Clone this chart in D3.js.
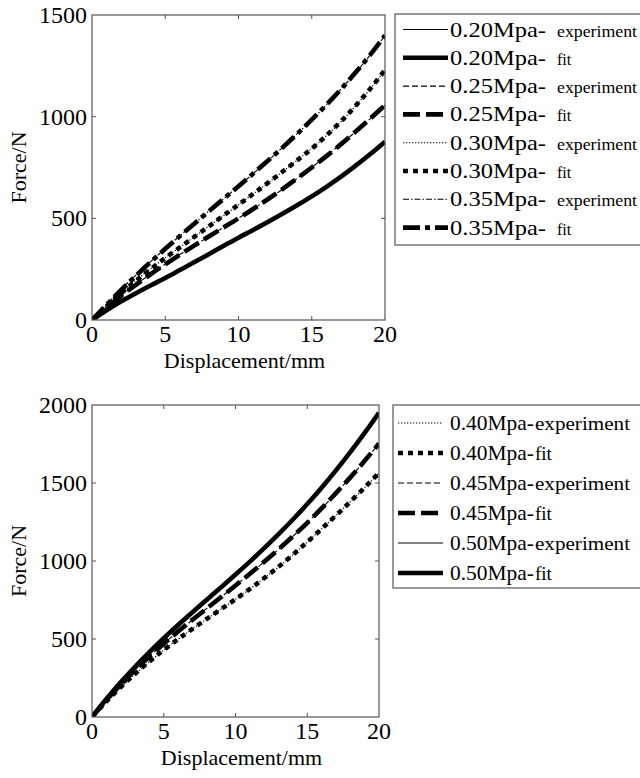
<!DOCTYPE html>
<html>
<head>
<meta charset="utf-8">
<script src="https://cdn.jsdelivr.net/npm/d3@7"></script>
<style>
  html, body { margin: 0; padding: 0; background: #fff; }
  svg { display: block; font-family: "Liberation Serif", "DejaVu Serif", serif; }
</style>
</head>
<body>
<svg id="chart" width="640" height="778"></svg>
<script>
// displacement samples (mm)
const DISP = [0, 1, 2, 3, 4, 5, 6, 7, 8, 9, 10, 11, 12, 13, 14, 15, 16, 17, 18, 19, 20];

// top panel, force (N)
const EXP_020 = [0, 50, 93, 133, 171, 208, 246, 286, 325, 364, 404, 442, 481, 522, 565, 609, 655, 706, 759, 815, 876];
const FIT_020 = [0, 48, 92, 132, 170, 207, 246, 285, 325, 365, 405, 443, 482, 522, 564, 608, 655, 705, 759, 816, 877];
const EXP_025 = [0, 64, 121, 175, 226, 275, 322, 367, 412, 457, 501, 546, 594, 643, 696, 751, 807, 866, 926, 990, 1056];
const FIT_025 = [0, 62, 120, 173, 225, 274, 321, 367, 412, 456, 500, 546, 594, 644, 696, 750, 806, 865, 927, 991, 1057];
const EXP_030 = [0, 71, 136, 196, 252, 306, 358, 410, 462, 514, 567, 620, 673, 729, 785, 844, 907, 976, 1053, 1137, 1228];
const FIT_030 = [0, 68, 133, 193, 250, 305, 357, 410, 462, 515, 567, 620, 674, 729, 785, 843, 907, 977, 1054, 1138, 1229];
const EXP_035 = [0, 78, 152, 221, 287, 351, 414, 476, 537, 597, 658, 720, 783, 848, 915, 984, 1058, 1135, 1217, 1304, 1399];
const FIT_035 = [0, 75, 148, 218, 285, 350, 413, 475, 536, 597, 658, 720, 783, 848, 915, 985, 1058, 1135, 1218, 1305, 1400];

// bottom panel, force (N)
const EXP_040 = [0, 98, 189, 274, 354, 429, 499, 565, 629, 692, 755, 821, 890, 962, 1040, 1121, 1206, 1292, 1380, 1470, 1564];
const FIT_040 = [0, 100, 192, 277, 356, 430, 499, 565, 629, 692, 755, 821, 890, 963, 1040, 1122, 1206, 1292, 1380, 1471, 1565];
const EXP_045 = [0, 110, 210, 302, 389, 471, 548, 623, 696, 769, 843, 918, 995, 1075, 1158, 1245, 1337, 1434, 1536, 1642, 1752];
const FIT_045 = [0, 108, 208, 301, 388, 470, 548, 623, 696, 769, 843, 918, 995, 1075, 1158, 1245, 1338, 1435, 1536, 1642, 1753];
const EXP_050 = [0, 117, 224, 323, 417, 505, 590, 672, 752, 832, 913, 996, 1082, 1172, 1266, 1365, 1470, 1581, 1698, 1821, 1949];
const FIT_050 = [0, 115, 222, 322, 416, 505, 590, 672, 752, 832, 913, 996, 1082, 1172, 1266, 1365, 1470, 1581, 1698, 1821, 1950];

const X_TICKS = [0, 5, 10, 15, 20];
const Y_TICKS_TOP = [0, 500, 1000, 1500];
const Y_TICKS_BOTTOM = [0, 500, 1000, 1500, 2000];

const LABELS_TOP = ['0.20Mpa-', '0.25Mpa-', '0.30Mpa-', '0.35Mpa-'];
const LABELS_BOTTOM = ['0.40Mpa-', '0.45Mpa-', '0.50Mpa-'];

// line styles: thin = experiment, thick = fit
const STYLE = {
  solid:   { thin: null,        thick: null },
  dash:    { thin: '6,3',       thick: '17,6' },
  dot:     { thin: '1.3,1.7',   thick: '5,5' },
  dashdot: { thin: '6,2,1.5,2', thick: '17,5,5,5' }
};
const THIN_W = 1.1;
const THICK_W = 4.6;

const svg = d3.select('#chart');

function drawPanel(p) {
  const x = d3.scaleLinear().domain([0, 20]).range([p.left, p.right]);
  const y = d3.scaleLinear().domain([0, p.yMax]).range([p.bottom, p.top]);
  const g = svg.append('g');

  const clipId = 'clip-' + p.id;
  g.append('clipPath').attr('id', clipId)
    .append('rect')
    .attr('x', p.left).attr('y', p.top)
    .attr('width', p.right - p.left).attr('height', p.bottom - p.top);

  const line = d3.line()
    .x((d, i) => x(DISP[i]))
    .y(d => y(d))
    .curve(d3.curveMonotoneX);

  const curves = g.append('g').attr('clip-path', `url(#${clipId})`);
  p.series.forEach(s => {
    curves.append('path').datum(s.exp)
      .attr('d', line).attr('fill', 'none')
      .attr('stroke', '#000').attr('stroke-width', THIN_W)
      .attr('stroke-dasharray', STYLE[s.style].thin);
  });
  p.series.forEach(s => {
    curves.append('path').datum(s.fit)
      .attr('d', line).attr('fill', 'none')
      .attr('stroke', '#000').attr('stroke-width', THICK_W)
      .attr('stroke-dasharray', STYLE[s.style].thick);
  });

  // frame with inward ticks (matlab style)
  g.append('rect')
    .attr('x', p.left).attr('y', p.top)
    .attr('width', p.right - p.left).attr('height', p.bottom - p.top)
    .attr('fill', 'none').attr('stroke', '#555').attr('stroke-width', 1.2);

  const tk = 4;
  X_TICKS.slice(1, -1).forEach(v => {
    g.append('line').attr('x1', x(v)).attr('x2', x(v)).attr('y1', p.bottom).attr('y2', p.bottom - tk)
      .attr('stroke', '#555');
    g.append('line').attr('x1', x(v)).attr('x2', x(v)).attr('y1', p.top).attr('y2', p.top + tk)
      .attr('stroke', '#555');
  });
  p.yTicks.slice(1, -1).forEach(v => {
    g.append('line').attr('x1', p.left).attr('x2', p.left + tk).attr('y1', y(v)).attr('y2', y(v))
      .attr('stroke', '#555');
    g.append('line').attr('x1', p.right).attr('x2', p.right - tk).attr('y1', y(v)).attr('y2', y(v))
      .attr('stroke', '#555');
  });

  g.selectAll(null).data(X_TICKS).enter().append('text')
    .attr('x', d => x(d)).attr('y', p.bottom + 22)
    .attr('text-anchor', 'middle')
    .style('font-size', '24px')
    .text(d => d);

  g.selectAll(null).data(p.yTicks).enter().append('text')
    .attr('x', p.left - 5).attr('y', d => y(d) + 8)
    .attr('text-anchor', 'end')
    .style('font-size', '24px')
    .text(d => d);

  g.append('text')
    .attr('x', (p.left + p.right) / 2 + 6).attr('y', p.bottom + 48)
    .attr('text-anchor', 'middle')
    .style('font-size', '22px')
    .text('Displacement/mm');

  g.append('text')
    .attr('transform', `translate(26,${(p.top + p.bottom) / 2}) rotate(-90)`)
    .attr('text-anchor', 'middle')
    .style('font-size', '22px')
    .text('Force/N');

  // legend
  const L = p.legend;
  const lg = svg.append('g');
  lg.append('rect')
    .attr('x', L.x).attr('y', L.y)
    .attr('width', 660 - L.x).attr('height', L.h)
    .attr('fill', '#fff').attr('stroke', '#555').attr('stroke-width', 1.2);

  const rows = [];
  p.series.forEach(s => {
    rows.push({ label: s.label, kind: 'experiment', dash: STYLE[s.style].thin, w: THIN_W });
    rows.push({ label: s.label, kind: 'fit', dash: STYLE[s.style].thick, w: THICK_W });
  });

  rows.forEach((r, i) => {
    const ry = L.row0 + i * L.step;
    lg.append('line')
      .attr('x1', L.lineX0).attr('x2', L.lineX1).attr('y1', ry).attr('y2', ry)
      .attr('stroke', '#000').attr('stroke-width', r.w)
      .attr('stroke-dasharray', r.dash);
    lg.append('text')
      .attr('x', L.textX).attr('y', ry + 7)
      .attr('textLength', L.labelLen).attr('lengthAdjust', 'spacingAndGlyphs')
      .style('font-size', '22px')
      .text(r.label);
    const sub = lg.append('text')
      .attr('x', L.subX).attr('y', ry + 7)
      .style('font-size', L.subSize + 'px')
      .text(r.kind);
    if (r.kind === 'experiment') {
      sub.attr('textLength', L.subLen).attr('lengthAdjust', 'spacingAndGlyphs');
    }
  });
}

drawPanel({
  id: 'top', left: 92, right: 385, top: 15, bottom: 320, yMax: 1500, yTicks: Y_TICKS_TOP,
  series: [
    { label: LABELS_TOP[0], style: 'solid',   exp: EXP_020, fit: FIT_020 },
    { label: LABELS_TOP[1], style: 'dash',    exp: EXP_025, fit: FIT_025 },
    { label: LABELS_TOP[2], style: 'dot',     exp: EXP_030, fit: FIT_030 },
    { label: LABELS_TOP[3], style: 'dashdot', exp: EXP_035, fit: FIT_035 }
  ],
  legend: { x: 395, y: 14, h: 231, row0: 29.5, step: 28.3, lineX0: 403, lineX1: 448,
            textX: 450, labelLen: 96, subX: 557, subSize: 16, subLen: 80 }
});

drawPanel({
  id: 'bottom', left: 92, right: 379, top: 405, bottom: 717, yMax: 2000, yTicks: Y_TICKS_BOTTOM,
  series: [
    { label: LABELS_BOTTOM[0], style: 'dot',   exp: EXP_040, fit: FIT_040 },
    { label: LABELS_BOTTOM[1], style: 'dash',  exp: EXP_045, fit: FIT_045 },
    { label: LABELS_BOTTOM[2], style: 'solid', exp: EXP_050, fit: FIT_050 }
  ],
  legend: { x: 393, y: 405, h: 183, row0: 423, step: 30, lineX0: 398, lineX1: 443,
            textX: 450, labelLen: 84, subX: 535, subSize: 19, subLen: 95 }
});
</script>
</body>
</html>
